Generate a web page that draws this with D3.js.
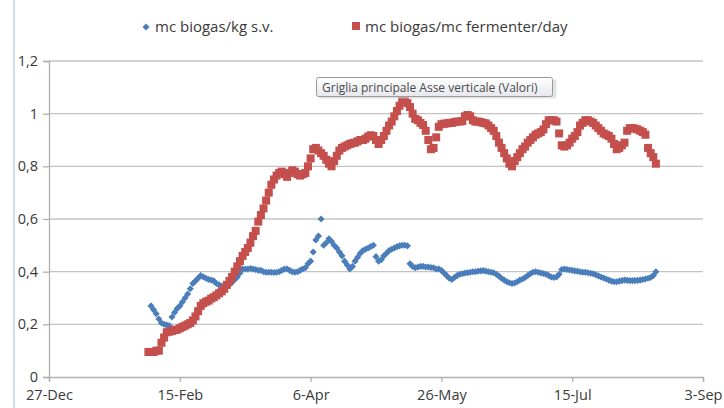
<!DOCTYPE html>
<html><head><meta charset="utf-8">
<script src="https://cdn.jsdelivr.net/npm/d3@7/dist/d3.min.js"></script>
<style>body{margin:0;background:#fff}svg{display:block}text{font-family:"Open Sans",sans-serif}</style>
</head><body><svg id="c" width="724" height="408"></svg>
<script>
const seriesNames = ["mc biogas/kg s.v.", "mc biogas/mc fermenter/day"];
const blueStart = "2011-02-04";
const blueValues = [
0.27,0.255,0.24,0.22,0.205, 0.20,0.197,0.195,0.228,0.245, 0.26,0.27,0.285,0.30,0.315,
0.335,0.355,0.365,0.375,0.385, 0.38,0.375,0.37,0.368,0.365, 0.355,0.35,0.345,0.345,0.345,
0.35,0.36,0.37,0.38,0.395, 0.41,0.41,0.41,0.412,0.41, 0.408,0.405,0.405,0.40,0.398,
0.398,0.398,0.397,0.398,0.40, 0.405,0.41,0.41,0.405,0.40, 0.398,0.40,0.405,0.41,0.415,
0.43,0.44,0.475,0.52,0.535, 0.60,0.50,0.51,0.525,0.515, 0.50,0.49,0.475,0.46,0.44,
0.425,0.41,0.42,0.44,0.455, 0.47,0.48,0.485,0.49,0.495, 0.50,0.457,0.44,0.445,0.46,
0.47,0.48,0.485,0.49,0.495, 0.498,0.50,0.50,0.498,0.43, 0.42,0.415,0.418,0.42,0.42,
0.418,0.418,0.416,0.415,0.41, 0.41,0.405,0.395,0.385,0.375, 0.37,0.378,0.385,0.39,0.392,
0.395,0.396,0.398,0.40,0.40, 0.402,0.403,0.404,0.402,0.40, 0.398,0.396,0.39,0.383,0.375,
0.368,0.362,0.358,0.355,0.357, 0.362,0.368,0.372,0.378,0.385, 0.392,0.398,0.40,0.398,0.395,
0.393,0.39,0.385,0.38,0.378, 0.38,0.39,0.408,0.41,0.408, 0.406,0.405,0.403,0.402,0.40,
0.398,0.398,0.396,0.394,0.392, 0.388,0.384,0.38,0.376,0.372, 0.368,0.364,0.362,0.362,0.364,
0.366,0.368,0.367,0.366,0.366, 0.366,0.367,0.368,0.37,0.372, 0.375,0.378,0.385,0.40];
const redStart = "2011-02-03";
const redValues = [
0.095,0.095,0.095,0.10,0.10, 0.13,0.15,0.17,0.172,0.175, 0.178,0.18,0.185,0.19,0.195,
0.20,0.205,0.215,0.23,0.25, 0.27,0.28,0.286,0.29,0.298, 0.303,0.31,0.318,0.325,0.335,
0.35,0.365,0.38,0.40,0.42, 0.44,0.46,0.475,0.49,0.51, 0.535,0.555,0.59,0.615,0.64,
0.67,0.70,0.73,0.75,0.765, 0.775,0.78,0.77,0.76,0.775, 0.785,0.78,0.77,0.765,0.77,
0.775,0.80,0.83,0.865,0.87, 0.86,0.85,0.84,0.825,0.81, 0.80,0.82,0.84,0.86,0.87,
0.875,0.88,0.885,0.888,0.89, 0.895,0.90,0.90,0.905,0.913, 0.918,0.915,0.90,0.885,0.90,
0.915,0.935,0.955,0.97,0.99, 1.01,1.03,1.05,1.055,1.04, 1.025,1.0,0.98,0.975,0.965,
0.957,0.935,0.90,0.865,0.87, 0.91,0.95,0.96,0.962,0.963, 0.965,0.965,0.968,0.97,0.97,
0.972,0.99,0.995,0.99,0.975, 0.97,0.97,0.968,0.965,0.963, 0.955,0.945,0.935,0.915,0.89,
0.87,0.85,0.83,0.81,0.80, 0.82,0.835,0.85,0.865,0.875, 0.89,0.90,0.91,0.92,0.925,
0.93,0.94,0.96,0.975,0.975, 0.975,0.97,0.925,0.88,0.875, 0.88,0.89,0.905,0.915,0.93,
0.955,0.965,0.975,0.975,0.97, 0.965,0.955,0.945,0.935,0.925, 0.92,0.915,0.905,0.885,0.865,
0.87,0.88,0.89,0.935,0.945, 0.945,0.943,0.94,0.935,0.93, 0.92,0.87,0.85,0.835,0.81];
const xTickLabels = ["2010-12-27","2011-02-15","2011-04-06","2011-05-26","2011-07-15","2011-09-03"];
const yTickLabels = [0,0.2,0.4,0.6,0.8,1,1.2];
const tooltipText = "Griglia principale Asse verticale (Valori)";

const parse = d3.utcParse("%Y-%m-%d");
function toPoints(start, vals){
  const s = parse(start);
  return vals.map((v,i)=>({date:d3.utcDay.offset(s,i), value:v})).filter(p=>p.value!=null);
}
const blue = toPoints(blueStart, blueValues);
const red = toPoints(redStart, redValues);

const svg = d3.select("#c");
const x = d3.scaleUtc().domain([parse(xTickLabels[0]), parse(xTickLabels[xTickLabels.length-1])]).range([49,703]);
const y = d3.scaleLinear().domain([0,1.2]).range([377,61]);
const fmtY = v => String(v).replace(".",",");
const fmtX = d3.utcFormat("%-d-%b");

// window edge artifact
svg.append("line").attr("x1",14).attr("x2",14).attr("y1",0).attr("y2",408).attr("stroke","#c9e0ec").attr("stroke-width",2);

// gridlines
svg.append("g").selectAll("line").data(yTickLabels.filter(v=>v>0)).join("line")
  .attr("x1",49).attr("x2",703).attr("y1",d=>y(d)).attr("y2",d=>y(d))
  .attr("stroke","#c4c4c4").attr("stroke-width",1.3);

// y axis
const gy = svg.append("g").attr("transform","translate(49,0)")
  .call(d3.axisLeft(y).tickValues(yTickLabels).tickFormat(fmtY).tickSize(6).tickPadding(4));
// x axis
const gx = svg.append("g").attr("transform","translate(0,377)")
  .call(d3.axisBottom(x).tickValues(xTickLabels.map(parse)).tickFormat(fmtX).tickSize(5).tickPadding(8));
[gx,gy].forEach(g=>{
  g.selectAll(".domain").attr("stroke","#b0b0b0").attr("stroke-width",1.3);
  g.selectAll(".tick line").attr("stroke","#b0b0b0").attr("stroke-width",1.3);
  g.selectAll("text").attr("fill","#3a3a3a").attr("font-size",14.5).attr("font-family","Open Sans, sans-serif");
});
gy.selectAll("text").attr("dx",-1);

// blue diamonds
svg.append("g").selectAll("rect").data(blue).join("rect")
  .attr("x",-2.5).attr("y",-2.5).attr("width",5).attr("height",5)
  .attr("transform",d=>`translate(${x(d.date)},${y(d.value)}) rotate(45)`)
  .attr("fill","#4a7ebb");
// red squares
svg.append("g").selectAll("rect").data(red).join("rect")
  .attr("x",d=>x(d.date)-4).attr("y",d=>y(d.value)-4).attr("width",8).attr("height",8)
  .attr("fill","#c44f4c");

// legend
const lg = svg.append("g");
lg.append("rect").attr("x",-2.5).attr("y",-2.5).attr("width",5).attr("height",5)
  .attr("transform","translate(146,27) rotate(45)").attr("fill","#4a7ebb");
lg.append("text").attr("x",155).attr("y",32).attr("font-size",15).attr("fill","#3a3a3a").text(seriesNames[0]);
lg.append("rect").attr("x",352).attr("y",22).attr("width",8).attr("height",8).attr("fill","#c44f4c");
lg.append("text").attr("x",365).attr("y",32).attr("font-size",15).attr("fill","#3a3a3a").text(seriesNames[1]);

// tooltip
const defs = svg.append("defs");
const gr = defs.append("linearGradient").attr("id","tg").attr("x1",0).attr("x2",0).attr("y1",0).attr("y2",1);
gr.append("stop").attr("offset","0%").attr("stop-color","#ffffff");
gr.append("stop").attr("offset","100%").attr("stop-color","#e6e8ee");
svg.append("rect").attr("x",318.5).attr("y",79.5).attr("width",238).attr("height",19).attr("rx",2)
  .attr("fill","#d0d0d0").attr("opacity",0.6);
svg.append("rect").attr("x",316.5).attr("y",77.5).attr("width",236).attr("height",19).attr("rx",2)
  .attr("fill","url(#tg)").attr("stroke","#9a9a9a");
svg.append("text").attr("x",322).attr("y",92).attr("font-size",12).attr("fill","#4a4a4a").text(tooltipText);
</script></body></html>
